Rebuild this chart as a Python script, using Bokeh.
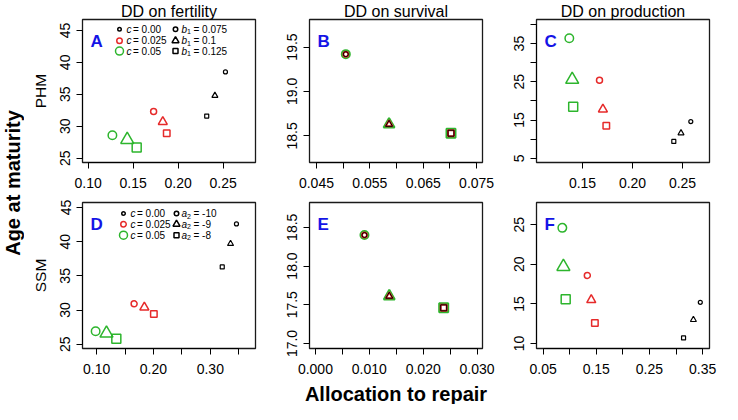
import math
from bokeh.plotting import figure
from bokeh.layouts import row, column
from bokeh.models import Range1d, FixedTicker, ColumnDataSource
from bokeh.core.properties import value
from bokeh.embed import file_html
from bokeh.resources import INLINE

FONT = "Liberation Sans"

# ---------------- data ----------------
c_levels = ["0.00", "0.025", "0.05"]
marker_kinds = ["circle", "triangle", "square"]
b1_levels = ["0.075", "0.1", "0.125"]
a2_levels = ["-10", "-9", "-8"]
col_titles = ["DD on fertility", "DD on survival", "DD on production"]
row_labels = ["PHM", "SSM"]
panel_letters = ["A", "B", "C", "D", "E", "F"]

# 9 values per panel: c=0.00 (circle, triangle, square), c=0.025 (...), c=0.05 (...)
A_x = [0.2526, 0.2409, 0.2318, 0.1728, 0.1830, 0.1874, 0.1270, 0.1435, 0.1540]
A_y = [38.5, 34.8, 31.6, 32.3, 30.7, 28.9, 28.6, 27.9, 26.7]
B_x = [0.0505, 0.0586, 0.0702, 0.0505, 0.0586, 0.0702, 0.0505, 0.0586, 0.0702]
B_y = [19.42, 18.63, 18.53, 19.42, 18.63, 18.53, 19.42, 18.63, 18.53]
C_x = [0.2583, 0.2485, 0.2413, 0.1670, 0.1704, 0.1738, 0.1368, 0.1397, 0.1407]
C_y = [14.6, 11.6, 9.4, 25.4, 17.8, 13.5, 36.4, 25.6, 18.5]
D_x = [0.3460, 0.3356, 0.3210, 0.1660, 0.1840, 0.2007, 0.0983, 0.1174, 0.1347]
D_y = [42.6, 39.7, 36.3, 30.9, 30.4, 29.4, 26.9, 26.6, 25.8]
E_x = [0.0091, 0.0137, 0.0238, 0.0091, 0.0137, 0.0238, 0.0091, 0.0137, 0.0238]
E_y = [18.40, 17.61, 17.46, 18.40, 17.61, 17.46, 18.40, 17.61, 17.46]
F_x = [0.3457, 0.3327, 0.3142, 0.1332, 0.1406, 0.1474, 0.0862, 0.0882, 0.0925]
F_y = [15.2, 13.0, 10.7, 18.6, 15.5, 12.6, 24.6, 19.7, 15.6]

A_xticks = [0.10, 0.15, 0.20, 0.25]
A_xlabels = ["0.10", "0.15", "0.20", "0.25"]
A_yticks = [25, 30, 35, 40, 45]
A_ylabels = ["25", "30", "35", "40", "45"]
B_xticks = [0.045, 0.050, 0.055, 0.060, 0.065, 0.070, 0.075]
B_xlabels = ["0.045", "", "0.055", "", "0.065", "", "0.075"]
B_yticks = [18.5, 19.0, 19.5]
B_ylabels = ["18.5", "19.0", "19.5"]
C_xticks = [0.15, 0.20, 0.25]
C_xlabels = ["0.15", "0.20", "0.25"]
C_yticks = [5, 10, 15, 20, 25, 30, 35, 40]
C_ylabels = ["5", "", "15", "", "25", "", "35", ""]
D_xticks = [0.10, 0.15, 0.20, 0.25, 0.30, 0.35]
D_xlabels = ["0.10", "", "0.20", "", "0.30", ""]
D_yticks = [25, 30, 35, 40, 45]
D_ylabels = ["25", "30", "35", "40", "45"]
E_xticks = [0.000, 0.005, 0.010, 0.015, 0.020, 0.025, 0.030]
E_xlabels = ["0.000", "", "0.010", "", "0.020", "", "0.030"]
E_yticks = [17.0, 17.5, 18.0, 18.5]
E_ylabels = ["17.0", "17.5", "18.0", "18.5"]
F_xticks = [0.05, 0.10, 0.15, 0.20, 0.25, 0.30, 0.35]
F_xlabels = ["0.05", "", "0.15", "", "0.25", "", "0.35"]
F_yticks = [10, 15, 20, 25]
F_ylabels = ["10", "15", "20", "25"]

# ---------------- style / layout ----------------
BLACK, RED, GREEN, BLUE = "#000000", "#E62A2A", "#2DB52D", "#1414E6"
COLORS = [BLACK, RED, GREEN]
FW = 173
LEFT = [58, 40, 40]
RIGHT = [14, 14, 13]
TOP = [17, 7]
BOT = [33, 34]
FH = [145, 146]
SIZE_NORMAL = {"circle": [4, 6, 8.5], "triangle": [6, 9, 13], "square": [4, 6.5, 9]}
LW_NORMAL = [1.2, 1.5, 1.5]
SIZE_OVER = {"circle": [5, 5, 8], "triangle": [7, 7, 11], "square": [6, 6, 9]}
LW_OVER = [1.0, 2.0, 2.0]


def to_data(p, fh, px, py):
    xs, xe = p.x_range.start, p.x_range.end
    ys, ye = p.y_range.start, p.y_range.end
    return xs + px / FW * (xe - xs), ye - py / fh * (ye - ys)


def style_axis(ax, ticks, labels, vertical=False):
    ax.ticker = FixedTicker(ticks=ticks)
    ax.major_label_overrides = dict(zip(ticks, labels))
    ax.bounds = (ticks[0], ticks[-1])
    ax.axis_line_color = "black"
    ax.axis_line_width = 1
    ax.major_tick_line_color = "black"
    ax.major_tick_line_width = 1
    ax.major_tick_out = 6
    ax.major_tick_in = 0
    ax.minor_tick_line_color = None
    ax.major_label_text_font = FONT
    ax.major_label_text_font_size = "14px"
    ax.major_label_text_color = "black"
    ax.major_label_standoff = 9
    if vertical:
        ax.major_label_orientation = "vertical"
        ax.major_label_standoff = 6


def panel(r, c, xr, yr, xt, xl, yt, yl, xs, ys, overlap, letter, legend=None):
    fh = FH[r]
    p = figure(width=LEFT[c] + FW + RIGHT[c], height=TOP[r] + fh + BOT[r],
               x_range=Range1d(*xr), y_range=Range1d(*yr),
               min_border_left=LEFT[c], min_border_right=RIGHT[c],
               min_border_top=TOP[r], min_border_bottom=BOT[r],
               output_backend="svg", toolbar_location=None,
               title=col_titles[c] if r == 0 else None)
    p.grid.visible = False
    p.outline_line_color = "#1a1a1a"
    p.outline_line_width = 1.3
    p.background_fill_color = "white"
    p.border_fill_color = "white"
    style_axis(p.xaxis[0], xt, xl)
    style_axis(p.yaxis[0], yt, yl, vertical=True)
    if c == 0:
        p.yaxis[0].axis_label = row_labels[r]
        p.yaxis[0].axis_label_text_font = FONT
        p.yaxis[0].axis_label_text_font_size = "15.5px"
        p.yaxis[0].axis_label_text_font_style = "normal"
        p.yaxis[0].axis_label_text_color = "black"
        p.yaxis[0].axis_label_standoff = 9
    if r == 0:
        p.title.text_font = FONT
        p.title.text_font_size = "16px"
        p.title.text_font_style = "normal"
        p.title.text_color = "black"
        p.title.align = "center"
        p.title.standoff = 0

    sizes = SIZE_OVER if overlap else SIZE_NORMAL
    lws = LW_OVER if overlap else LW_NORMAL
    d = dict(x=[], y=[], marker=[], color=[], size=[], lw=[])
    for ci in [2, 1, 0]:
        for mi, m in enumerate(marker_kinds):
            k = 3 * ci + mi
            d["x"].append(xs[k])
            d["y"].append(ys[k])
            d["marker"].append(m)
            d["color"].append(COLORS[ci])
            d["size"].append(sizes[m][ci])
            d["lw"].append(lws[ci])
    p.scatter(x="x", y="y", marker="marker", size="size", line_color="color",
              line_width="lw", fill_color=None, source=ColumnDataSource(d))

    lx, ly = to_data(p, fh, 8, 22)
    p.text(x=[lx], y=[ly], text=[letter], text_font=value(FONT), text_font_style="bold",
           text_font_size="17px", text_color=BLUE, text_baseline="alphabetic", text_align="left")

    if legend is not None:
        rows_py, c1m, c1t, c2m, c2t, sym, levels = legend
        fs = "10px"
        for i in range(3):
            mx, my = to_data(p, fh, c1m, rows_py[i])
            p.scatter([mx], [my], marker="circle", size=[3.5, 5.5, 8][i], line_color=COLORS[i],
                      fill_color=None, line_width=1.5)
            mx2, my2 = to_data(p, fh, c2m, rows_py[i])
            p.scatter([mx2], [my2], marker=marker_kinds[i], size=[4.5, 7, 5][i], line_color="black",
                      fill_color=None, line_width=1.5)
        t1 = [to_data(p, fh, c1t, rows_py[i]) for i in range(3)]
        t2 = [to_data(p, fh, c2t, rows_py[i]) for i in range(3)]
        common = dict(text_font=value(FONT), text_font_size=fs, text_baseline="middle",
                      text_align="left", text_color="black")
        p.text(x=[t[0] for t in t1], y=[t[1] for t in t1], text=["c"] * 3,
               text_font_style="italic", **common)
        p.text(x=[t[0] for t in t1], y=[t[1] for t in t1], x_offset=6.5,
               text=["= " + v for v in c_levels], **common)
        p.text(x=[t[0] for t in t2], y=[t[1] for t in t2], text=[sym] * 3,
               text_font_style="italic", **common)
        p.text(x=[t[0] for t in t2], y=[t[1] for t in t2], x_offset=5.6, y_offset=2.5,
               text=["1" if sym == "b" else "2"] * 3,
               text_font=value(FONT), text_font_size="7px", text_baseline="middle",
               text_align="left", text_color="black")
        p.text(x=[t[0] for t in t2], y=[t[1] for t in t2], x_offset=12,
               text=["= " + v for v in levels], **common)
    return p


pA = panel(0, 0, (0.0938, 0.2860), (24.34, 46.70), A_xticks, A_xlabels, A_yticks, A_ylabels,
           A_x, A_y, False, "A", ([10, 21.5, 32], 37, 44, 93, 99, "b", b1_levels))
pB = panel(0, 1, (0.0437, 0.0761), (18.20, 19.81), B_xticks, B_xlabels, B_yticks, B_ylabels,
           B_x, B_y, True, "B")
pC = panel(0, 2, (0.104, 0.277), (3.9, 41.3), C_xticks, C_xlabels, C_yticks, C_ylabels,
           C_x, C_y, False, "C")
pD = panel(1, 0, (0.0752, 0.3795), (24.37, 45.73), D_xticks, D_xlabels, D_yticks, D_ylabels,
           D_x, D_y, False, "D", ([11, 21.7, 32.7], 41, 48, 94, 99, "a", a2_levels))
pE = panel(1, 1, (-0.0011, 0.0310), (16.935, 18.82), E_xticks, E_xlabels, E_yticks, E_ylabels,
           E_x, E_y, True, "E")
pF = panel(1, 2, (0.0376, 0.363), (9.37, 27.8), F_xticks, F_xlabels, F_yticks, F_ylabels,
           F_x, F_y, False, "F")

rows_h = TOP[0] + FH[0] + BOT[0] + TOP[1] + FH[1] + BOT[1]
LW_FIG = 24
lf = figure(width=LW_FIG, height=rows_h, x_range=Range1d(0, 1), y_range=Range1d(0, rows_h),
            x_axis_type=None, y_axis_type=None, min_border=0, outline_line_color=None,
            output_backend="svg", toolbar_location=None)
lf.grid.visible = False
center_from_top = (TOP[0] + (TOP[0] + FH[0] + BOT[0] + TOP[1] + FH[1])) / 2
lf.text(x=[0.5], y=[rows_h - center_from_top], text=["Age at maturity"], angle=math.pi / 2,
        text_align="center", text_baseline="middle", text_font=value(FONT),
        text_font_style="bold", text_font_size="20px", text_color="black")

total_w = sum(LEFT) + 3 * FW + sum(RIGHT)
BH = 22
bf = figure(width=total_w, height=BH, x_range=Range1d(0, total_w), y_range=Range1d(0, BH),
            x_axis_type=None, y_axis_type=None, min_border=0, outline_line_color=None,
            output_backend="svg", toolbar_location=None)
bf.grid.visible = False
bx = LEFT[0] + FW + RIGHT[0] + LEFT[1] + FW / 2
bf.text(x=[bx], y=[BH / 2], text=["Allocation to repair"], text_align="center",
        text_baseline="middle", text_font=value(FONT), text_font_style="bold",
        text_font_size="20px", text_color="black")

layout = row(lf, column(row(pA, pB, pC), row(pD, pE, pF), bf))
open("out.html", "w").write(file_html(layout, INLINE))
